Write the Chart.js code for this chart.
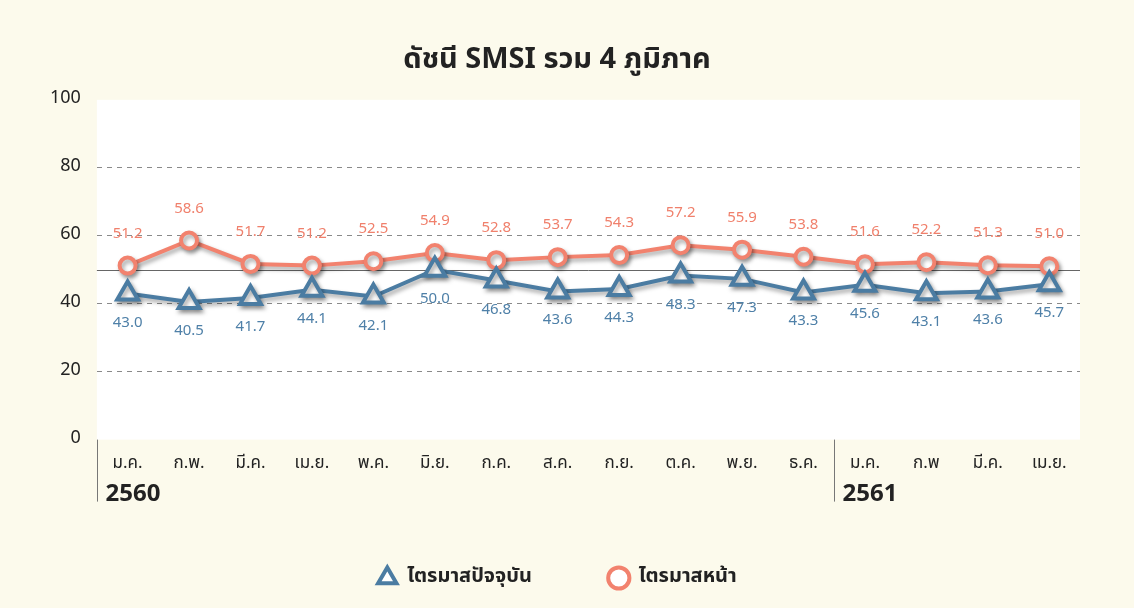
<!DOCTYPE html>
<html>
<head>
<meta charset="utf-8">
<script src="https://cdn.jsdelivr.net/npm/chart.js@4.4.1/dist/chart.umd.min.js"></script>
<style>
  html, body { margin: 0; padding: 0; background: #fcfaec; }
  #wrap { width: 1134px; height: 608px; position: relative; }
</style>
</head>
<body>
<div id="wrap"><canvas id="smsiChart" width="1134" height="608"></canvas></div>
<script>
const months = ['ม.ค.', 'ก.พ.', 'มี.ค.', 'เม.ย.', 'พ.ค.', 'มิ.ย.', 'ก.ค.', 'ส.ค.', 'ก.ย.', 'ต.ค.', 'พ.ย.', 'ธ.ค.', 'ม.ค.', 'ก.พ', 'มี.ค.', 'เม.ย.'];
const years = ['2560', '2561'];
const yearStarts = [0, 12];
const currentQ = [43.0, 40.5, 41.7, 44.1, 42.1, 50.0, 46.8, 43.6, 44.3, 48.3, 47.3, 43.3, 45.6, 43.1, 43.6, 45.7];
const nextQ = [51.2, 58.6, 51.7, 51.2, 52.5, 54.9, 52.8, 53.7, 54.3, 57.2, 55.9, 53.8, 51.6, 52.2, 51.3, 51.0];
const baseline = 50;

const thaiFont = "Tahoma, 'Noto Sans Thai', 'Loma', 'Garuda', 'DejaVu Sans', sans-serif";
const blue = '#4b7ca2';
const orange = '#f2826e';
const cream = '#fcfaec';

// background: cream page, white plot area
const bgPlugin = {
  id: 'bg',
  beforeDraw(chart) {
    const { ctx, chartArea: a } = chart;
    ctx.save();
    ctx.fillStyle = cream;
    ctx.fillRect(0, 0, chart.width, chart.height);
    ctx.fillStyle = '#ffffff';
    ctx.fillRect(a.left, a.top, a.right - a.left, a.bottom - a.top);
    ctx.restore();
  },
  beforeDatasetsDraw(chart) {
    // solid reference line at 50
    const { ctx, chartArea: a, scales } = chart;
    const y = Math.round(scales.y.getPixelForValue(baseline)) + 0.5;
    ctx.save();
    ctx.strokeStyle = '#666';
    ctx.lineWidth = 1;
    ctx.beginPath();
    ctx.moveTo(a.left, y);
    ctx.lineTo(a.right, y);
    ctx.stroke();
    ctx.restore();
  },
  afterDraw(chart) {
    // year separators and year labels under the month ticks
    const { ctx, chartArea: a, scales } = chart;
    const x = scales.x;
    const half = (x.getPixelForValue(1) - x.getPixelForValue(0)) / 2;
    ctx.save();
    ctx.strokeStyle = '#777';
    ctx.lineWidth = 1;
    ctx.fillStyle = '#222';
    ctx.font = "bold 24px " + thaiFont;
    ctx.textBaseline = 'middle';
    ctx.textAlign = 'left';
    yearStarts.forEach((idx, i) => {
      const px = Math.round(x.getPixelForValue(idx) - half) + 0.5;
      ctx.beginPath();
      ctx.moveTo(px, a.bottom);
      ctx.lineTo(px, a.bottom + 62);
      ctx.stroke();
      ctx.fillText(years[i], px + 8, a.bottom + 57);
    });
    ctx.restore();
  }
};

// drop shadow under lines and markers
const shadowPlugin = {
  id: 'shadow',
  beforeDatasetDraw(chart) {
    const ctx = chart.ctx;
    ctx.save();
    ctx.shadowColor = 'rgba(0,0,0,0.35)';
    ctx.shadowBlur = 4;
    ctx.shadowOffsetX = 2;
    ctx.shadowOffsetY = 3;
  },
  afterDatasetDraw(chart) {
    chart.ctx.restore();
  }
};

// value labels: next quarter above, current quarter below
const valueLabels = {
  id: 'valueLabels',
  afterDatasetsDraw(chart) {
    const ctx = chart.ctx;
    ctx.save();
    ctx.font = "15px " + thaiFont;
    ctx.textAlign = 'center';
    ctx.textBaseline = 'middle';
    chart.data.datasets.forEach((ds, di) => {
      const meta = chart.getDatasetMeta(di);
      ctx.fillStyle = ds.labelColor;
      meta.data.forEach((pt, i) => {
        ctx.fillText(ds.data[i].toFixed(1), pt.x, pt.y + ds.labelOffset);
      });
    });
    ctx.restore();
  }
};

new Chart(document.getElementById('smsiChart'), {
  type: 'line',
  data: {
    labels: months,
    datasets: [
      {
        label: 'ไตรมาสปัจจุบัน',
        data: currentQ,
        borderColor: blue,
        backgroundColor: '#ffffff',
        borderWidth: 4,
        pointStyle: 'triangle',
        pointRadius: 12,
        pointBorderWidth: 4,
        pointBackgroundColor: '#ffffff',
        pointBorderColor: blue,
        labelColor: '#4f80a8',
        labelOffset: 30
      },
      {
        label: 'ไตรมาสหน้า',
        data: nextQ,
        borderColor: orange,
        backgroundColor: '#ffffff',
        borderWidth: 4,
        pointStyle: 'circle',
        pointRadius: 8,
        pointBorderWidth: 4,
        pointBackgroundColor: '#ffffff',
        pointBorderColor: orange,
        labelColor: '#f0806c',
        labelOffset: -31
      }
    ]
  },
  options: {
    responsive: false,
    animation: false,
    layout: { padding: { left: 34, right: 54, top: 0, bottom: 10 } },
    scales: {
      x: {
        offset: true,
        grid: { display: false, drawTicks: false },
        border: { display: false },
        ticks: { color: '#222', font: { size: 17, family: thaiFont }, padding: 15, maxRotation: 0, autoSkip: false },
        afterFit(scale) { scale.height += 1; }
      },
      y: {
        min: 0,
        max: 100,
        ticks: { stepSize: 20, color: '#222', font: { size: 18, family: thaiFont }, padding: 16 },
        border: { display: false, dash: [5, 5] },
        grid: {
          drawTicks: false,
          color: (c) => (c.tick.value === 0 || c.tick.value === 100) ? 'rgba(0,0,0,0)' : '#8a8a8a'
        }
      }
    },
    plugins: {
      title: {
        display: true,
        text: 'ดัชนี SMSI รวม 4 ภูมิภาค',
        color: '#222',
        font: { size: 29, weight: 'bold', family: thaiFont },
        padding: { top: 45, bottom: 20 }
      },
      legend: {
        position: 'bottom',
        labels: {
          usePointStyle: true,
          color: '#222',
          font: { size: 20, weight: 'bold', family: thaiFont },
          padding: 77,
          boxHeight: 15
        }
      },
      tooltip: { enabled: false }
    }
  },
  plugins: [bgPlugin, shadowPlugin, valueLabels]
});
</script>
</body>
</html>
